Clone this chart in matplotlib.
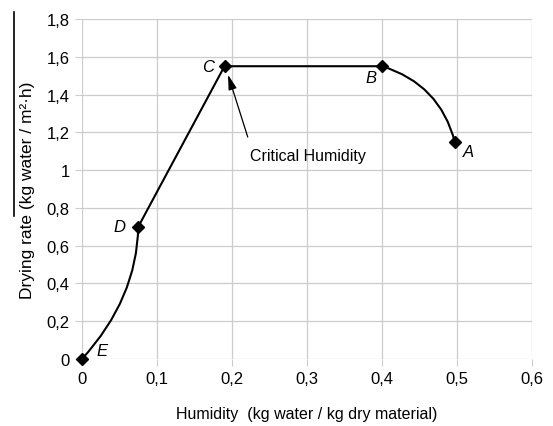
import matplotlib.pyplot as plt
from matplotlib.path import Path
from matplotlib.patches import PathPatch
from matplotlib.lines import Line2D
from matplotlib.ticker import FuncFormatter

plt.rcParams['font.family'] = ['Liberation Sans', 'DejaVu Sans']

# Data: the drying curve points
labels = ["E", "D", "C", "B", "A"]
humidity = [0.0, 0.075, 0.19, 0.40, 0.497]
rate = [0.0, 0.70, 1.55, 1.55, 1.15]
# Bezier control points for the curved segments (E-D and B-A)
ctrl_ed = (0.0733, 0.32)
ctrl_ba = (0.477, 1.456)

xticks = [0, 0.1, 0.2, 0.3, 0.4, 0.5, 0.6]
yticks = [0, 0.2, 0.4, 0.6, 0.8, 1.0, 1.2, 1.4, 1.6, 1.8]

fig = plt.figure(figsize=(5.53, 4.27), dpi=100)
ax = fig.add_axes([82 / 553, 67 / 427, 450 / 553, 340 / 427])

pts = list(zip(humidity, rate))
verts = [pts[0], ctrl_ed, pts[1], pts[2], pts[3], ctrl_ba, pts[4]]
codes = [Path.MOVETO, Path.CURVE3, Path.CURVE3, Path.LINETO, Path.LINETO,
         Path.CURVE3, Path.CURVE3]
ax.add_patch(PathPatch(Path(verts, codes), fill=False, ec="black", lw=1.5, zorder=3))
ax.plot(humidity, rate, ls="none", marker="D", ms=6.5, color="black", zorder=4,
        clip_on=False)

# point letters
offs = {"E": (0.027, 0.045), "D": (-0.025, 0.0), "C": (-0.022, 0.0),
        "B": (-0.014, -0.06), "A": (0.018, -0.05)}
for lab, x, y in zip(labels, humidity, rate):
    dx, dy = offs[lab]
    ax.text(x + dx, y + dy, lab, style="italic", fontsize=12,
            ha="center", va="center", zorder=5)

# arrow to the critical point and its label
ax.annotate("", xy=(0.1947, 1.505), xytext=(0.221, 1.175),
            arrowprops=dict(arrowstyle="-|>,head_length=0.9,head_width=0.25",
                            color="black", lw=0.9, shrinkA=0, shrinkB=0))
ax.text(0.224, 1.075, "Critical Humidity", fontsize=11.5, ha="left", va="center")

ax.set_xlim(0, 0.6)
ax.set_ylim(0, 1.8)
ax.set_xticks(xticks)
ax.set_yticks(yticks)
fmt = FuncFormatter(lambda v, p: ("%g" % round(v, 2)).replace(".", ","))
ax.xaxis.set_major_formatter(fmt)
ax.yaxis.set_major_formatter(fmt)
ax.grid(True, color="#cccccc", lw=0.9)
ax.set_axisbelow(True)
for s in ax.spines.values():
    s.set_visible(False)
ax.tick_params(length=5, color="#cccccc", labelsize=12, pad=4)
ax.set_xlabel("Humidity  (kg water / kg dry material)", fontsize=11.5, labelpad=14)
ax.set_ylabel("Drying rate (kg water / m²·h)", fontsize=12.5, labelpad=8)

# stray vertical line on the left edge of the original image
fig.add_artist(Line2D([14 / 553, 14 / 553], [1 - 13 / 427, 1 - 217 / 427],
                      color="black", lw=1.2))

fig.savefig("out.png", dpi=100)
